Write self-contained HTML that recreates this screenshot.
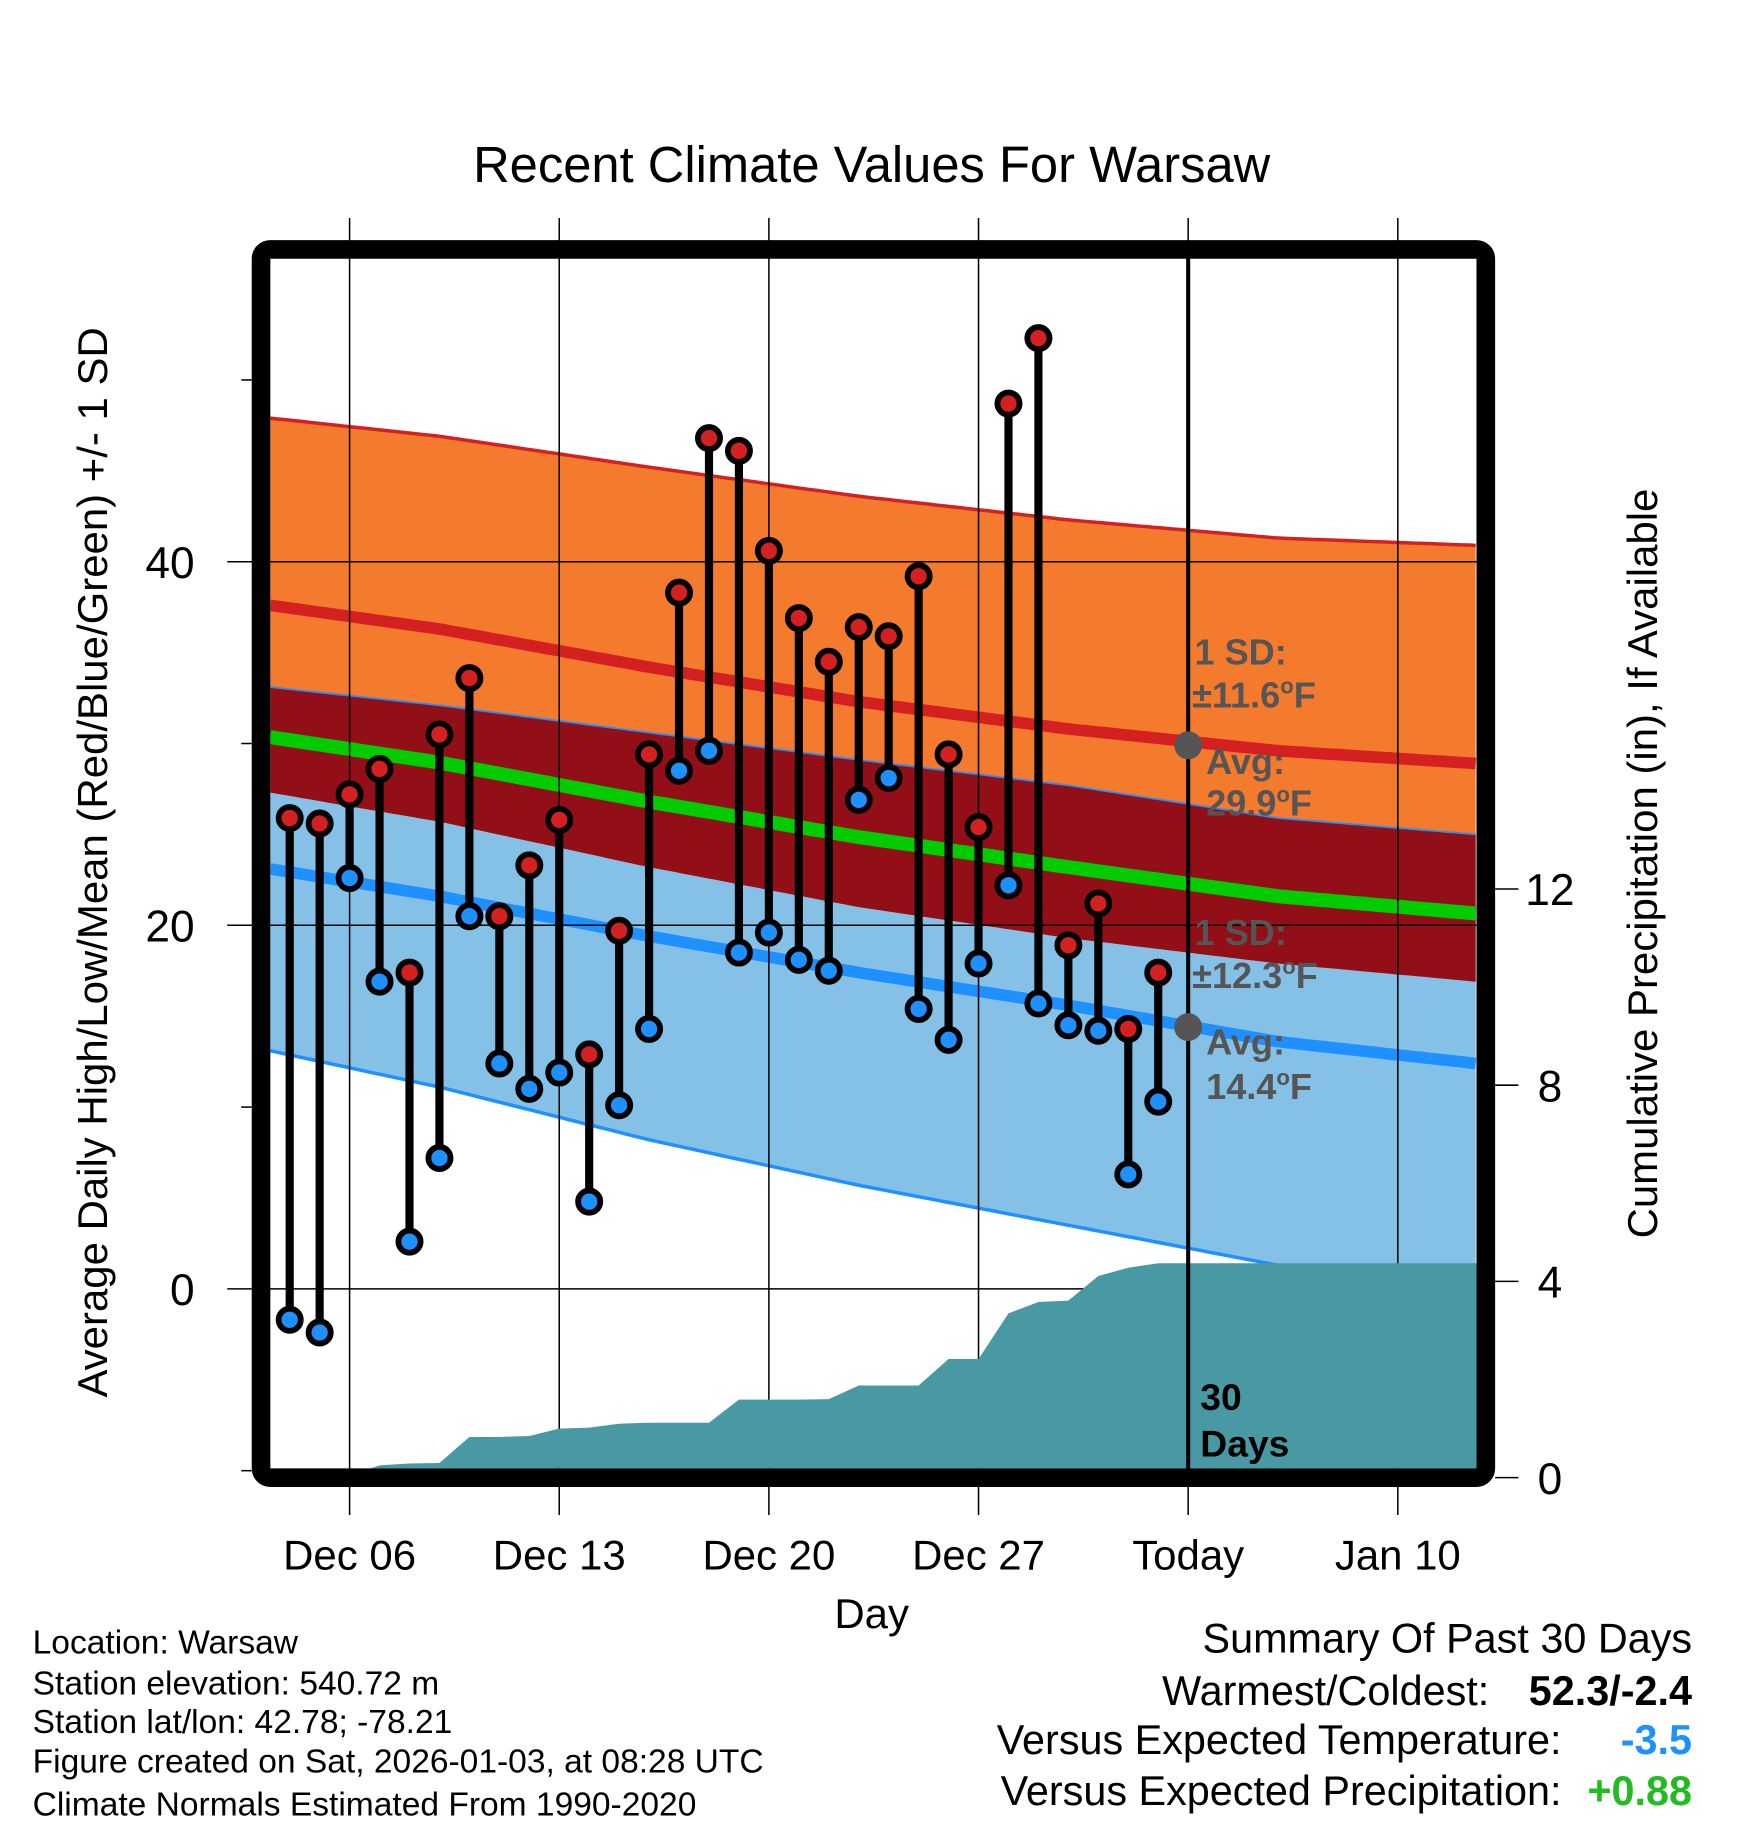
<!DOCTYPE html>
<html><head><meta charset="utf-8"><title>Recent Climate Values For Warsaw</title>
<style>html,body{margin:0;padding:0;background:#fff}svg{display:block}text{font-family:"Liberation Sans",sans-serif}</style>
</head><body>
<svg id="chart" width="1748" height="1828" viewBox="0 0 1500 1568.6" xmlns="http://www.w3.org/2000/svg">
<defs><clipPath id="plotclip"><rect x="232" y="222" width="1035" height="1038"/></clipPath></defs>
<text x="748" y="156" font-size="43.5" text-anchor="middle">Recent Climate Values For Warsaw</text>
<g id="bands" clip-path="url(#plotclip)"></g>
<g id="grid"></g>
<g id="precip" clip-path="url(#plotclip)"></g>
<g id="annot"></g>
<g id="marks"></g>
<rect x="224" y="214" width="1051" height="1054" rx="8" fill="none" stroke="#000" stroke-width="16"/>
<g id="axes"></g>
<text transform="translate(92,740) rotate(-90)" font-size="36" text-anchor="middle">Average Daily High/Low/Mean (Red/Blue/Green) +/- 1 SD</text>
<text transform="translate(1422,741) rotate(-90)" font-size="36" text-anchor="middle">Cumulative Precipitation (in), If Available</text>
<text x="748" y="1397" font-size="36" text-anchor="middle">Day</text>
<g font-size="28.8">
<text x="28" y="1419">Location: Warsaw</text>
<text x="28" y="1454">Station elevation: 540.72 m</text>
<text x="28" y="1487">Station lat/lon: 42.78; -78.21</text>
<text x="28" y="1521">Figure created on Sat, 2026-01-03, at 08:28 UTC</text>
<text x="28" y="1558">Climate Normals Estimated From 1990-2020</text>
</g>
<g font-size="35.5">
<text x="1452" y="1418" text-anchor="end">Summary Of Past 30 Days</text>
<text x="1278" y="1463" text-anchor="end">Warmest/Coldest:</text>
<text x="1452" y="1463" text-anchor="end" font-weight="bold">52.3/-2.4</text>
<text x="1340" y="1505" text-anchor="end">Versus Expected Temperature:</text>
<text x="1452" y="1505" text-anchor="end" font-weight="bold" fill="#1e90ff">-3.5</text>
<text x="1340" y="1549" text-anchor="end">Versus Expected Precipitation:</text>
<text x="1452" y="1549" text-anchor="end" font-weight="bold" fill="#22bb22">+0.88</text>
</g>
</svg>
<script>
const days = [-2,-1,0,1,2,3,4,5,6,7,8,9,10,11,12,13,14,15,16,17,18,19,20,21,22,23,24,25,26,27];
const highs = [25.9,25.6,27.2,28.6,17.4,30.5,33.6,20.5,23.3,25.8,12.9,19.7,29.4,38.3,46.8,46.1,40.6,36.9,34.5,36.4,35.9,39.2,29.4,25.4,48.7,52.3,18.9,21.2,14.3,17.4];
const lows = [-1.7,-2.4,22.6,16.9,2.6,7.2,20.5,12.4,11.0,11.9,4.8,10.1,14.3,28.5,29.6,18.5,19.6,18.1,17.5,26.9,28.1,15.4,13.7,17.9,22.2,15.7,14.5,14.2,6.3,10.3];
const precip = [0,0,0.05,0.25,0.29,0.3,0.83,0.83,0.85,1.0,1.02,1.1,1.12,1.12,1.12,1.59,1.59,1.59,1.6,1.88,1.88,1.88,2.42,2.42,3.35,3.58,3.61,4.11,4.28,4.37];
const normDays = [-2.65,3,10,17,24,31,37.6];
const highMean = [37.6,36.3,34.2,32.3,30.8,29.6,28.9];
const highSD = [10.3,10.6,11.0,11.3,11.5,11.7,12.0];
const lowMean = [23.1,21.6,19.4,17.4,15.6,13.6,12.4];
const lowSD = [10.0,10.5,11.2,11.7,12.1,12.3,12.6];
const xTickDays = [0,7,14,21,28,35];
const xTickLabels = ["Dec 06","Dec 13","Dec 20","Dec 27","Today","Jan 10"];
const yTicks = [0,20,40];
const yMinor = [-10,10,30,50];
const pTicks = [0,4,8,12];

const NS="http://www.w3.org/2000/svg";
const X=d=>300+25.7*d;
const Y=v=>1106-15.6*v;
const P=v=>1268-42.1*v;
function el(tag,attrs,parent){const e=document.createElementNS(NS,tag);for(const k in attrs)e.setAttribute(k,attrs[k]);parent.appendChild(e);return e;}
function interp(arr,d){for(let i=0;i<normDays.length-1;i++){if(d<=normDays[i+1]||i==normDays.length-2){const t=(d-normDays[i])/(normDays[i+1]-normDays[i]);return arr[i]+t*(arr[i+1]-arr[i]);}}}
const samples=[];for(let d=normDays[0];d<normDays[normDays.length-1];d+=0.25)samples.push(d);samples.push(normDays[normDays.length-1]);
function curve(f){return samples.map(d=>X(d).toFixed(1)+","+Y(f(d)).toFixed(1));}
const hTop=d=>interp(highMean,d)+interp(highSD,d), hBot=d=>interp(highMean,d)-interp(highSD,d);
const lTop=d=>interp(lowMean,d)+interp(lowSD,d), lBot=d=>interp(lowMean,d)-interp(lowSD,d);
function band(fTop,fBot){return "M"+curve(fTop).join(" L")+" L"+curve(fBot).reverse().join(" L")+" Z";}
const bands=document.getElementById('bands');
let e;
e=el('path',{d:band(lTop,lBot),fill:'#85c1e6'},bands);


e=el('path',{d:band(hTop,hBot),fill:'#f47a2e'},bands);


e=el('path',{d:band(lTop,hBot),fill:'#930f17'},bands);


e=el('polyline',{points:curve(hTop).join(" "),fill:'none',stroke:'#d42020',"stroke-width":3},bands);


e=el('polyline',{points:curve(lTop).join(" "),fill:'none',stroke:'#1e90ff',"stroke-width":1.5},bands);


e=el('polyline',{points:curve(lBot).join(" "),fill:'none',stroke:'#1e90ff',"stroke-width":3},bands);


e=el('polyline',{points:curve(d=>interp(highMean,d)).join(" "),fill:'none',stroke:'#d42020',"stroke-width":10},bands);


e=el('polyline',{points:curve(d=>(interp(highMean,d)+interp(lowMean,d))/2).join(" "),fill:'none',stroke:'#00cc00',"stroke-width":12},bands);


e=el('polyline',{points:curve(d=>interp(lowMean,d)).join(" "),fill:'none',stroke:'#1e90ff',"stroke-width":10},bands);



const grid=document.getElementById('grid');
xTickDays.forEach(d=>{
  const g=el('line',{x1:X(d),x2:X(d),y1:187,y2:1300,stroke:'#000',"stroke-width":1.3},grid);
  
  
});
yTicks.forEach(v=>{
  const g=el('line',{x1:195,x2:1267,y1:Y(v),y2:Y(v),stroke:'#000',"stroke-width":1.3},grid);
  
  
});

const pg=document.getElementById('precip');
let pts=[];
days.forEach((d,i)=>pts.push(X(d)+","+P(precip[i])));
pts.push(1267+","+P(precip[precip.length-1]));
pts.push(1267+","+P(0));pts.push(X(days[0])+","+P(0));
e=el('polygon',{points:pts.join(" "),fill:'#4899a3'},pg);



const an=document.getElementById('annot');
e=el('line',{x1:X(28),x2:X(28),y1:222,y2:1260,stroke:'#000',"stroke-width":3.5},an);


[[29.9,'high-avg-dot'],[14.4,'low-avg-dot']].forEach(a=>{
  const c=el('circle',{cx:X(28),cy:Y(a[0]),r:12,fill:'#555'},an);
  
  
});
an.insertAdjacentHTML('beforeend',
'<g font-size="31" font-weight="bold" fill="#555">'+
'<text x="1025" y="570">1 SD:</text><text x="1023" y="607">±11.6<tspan font-size="19" dy="-12">o</tspan><tspan dy="12">F</tspan></text>'+
'<text x="1035" y="664">Avg:</text><text x="1035" y="700">29.9<tspan font-size="19" dy="-12">o</tspan><tspan dy="12">F</tspan></text></g>'+
'<g font-size="31" font-weight="bold" fill="#555">'+
'<text x="1025" y="811">1 SD:</text><text x="1023" y="848">±12.3<tspan font-size="19" dy="-12">o</tspan><tspan dy="12">F</tspan></text>'+
'<text x="1035" y="905">Avg:</text><text x="1035" y="943">14.4<tspan font-size="19" dy="-12">o</tspan><tspan dy="12">F</tspan></text></g>'+
'<g font-size="32" font-weight="bold"><text x="1030" y="1210">30</text><text x="1030" y="1250">Days</text></g>');

const mk=document.getElementById('marks');
days.forEach((d,i)=>{
  const s=el('line',{x1:X(d),x2:X(d),y1:Y(highs[i]),y2:Y(lows[i]),stroke:'#000',"stroke-width":7},mk);
  
  
});
days.forEach((d,i)=>{
  const h=el('circle',{cx:X(d),cy:Y(highs[i]),r:9.5,fill:'#d42020',stroke:'#000',"stroke-width":5},mk);
  
  
  const l=el('circle',{cx:X(d),cy:Y(lows[i]),r:9.5,fill:'#1e90ff',stroke:'#000',"stroke-width":5},mk);
  
  
});

const ax=document.getElementById('axes');
xTickDays.forEach((d,i)=>{
  const t=el('text',{x:X(d),y:1347,"font-size":36,"text-anchor":"middle"},ax);
  t.textContent=xTickLabels[i];
  
  
});
yTicks.forEach(v=>{
  const t=el('text',{x:167,y:Y(v)+14,"font-size":38,"text-anchor":"end"},ax);
  t.textContent=v;
  
  
});
yMinor.forEach(v=>{
  const t=el('line',{x1:207,x2:216,y1:Y(v),y2:Y(v),stroke:'#000',"stroke-width":1.3},ax);
  
  
});
pTicks.forEach(v=>{
  const t=el('line',{x1:1283,x2:1303,y1:P(v),y2:P(v),stroke:'#000',"stroke-width":1.3},ax);
  
  
  const l=el('text',{x:1330,y:P(v)+14,"font-size":38,"text-anchor":"middle"},ax);
  l.textContent=v;
  
  
});
</script>
</body></html>
